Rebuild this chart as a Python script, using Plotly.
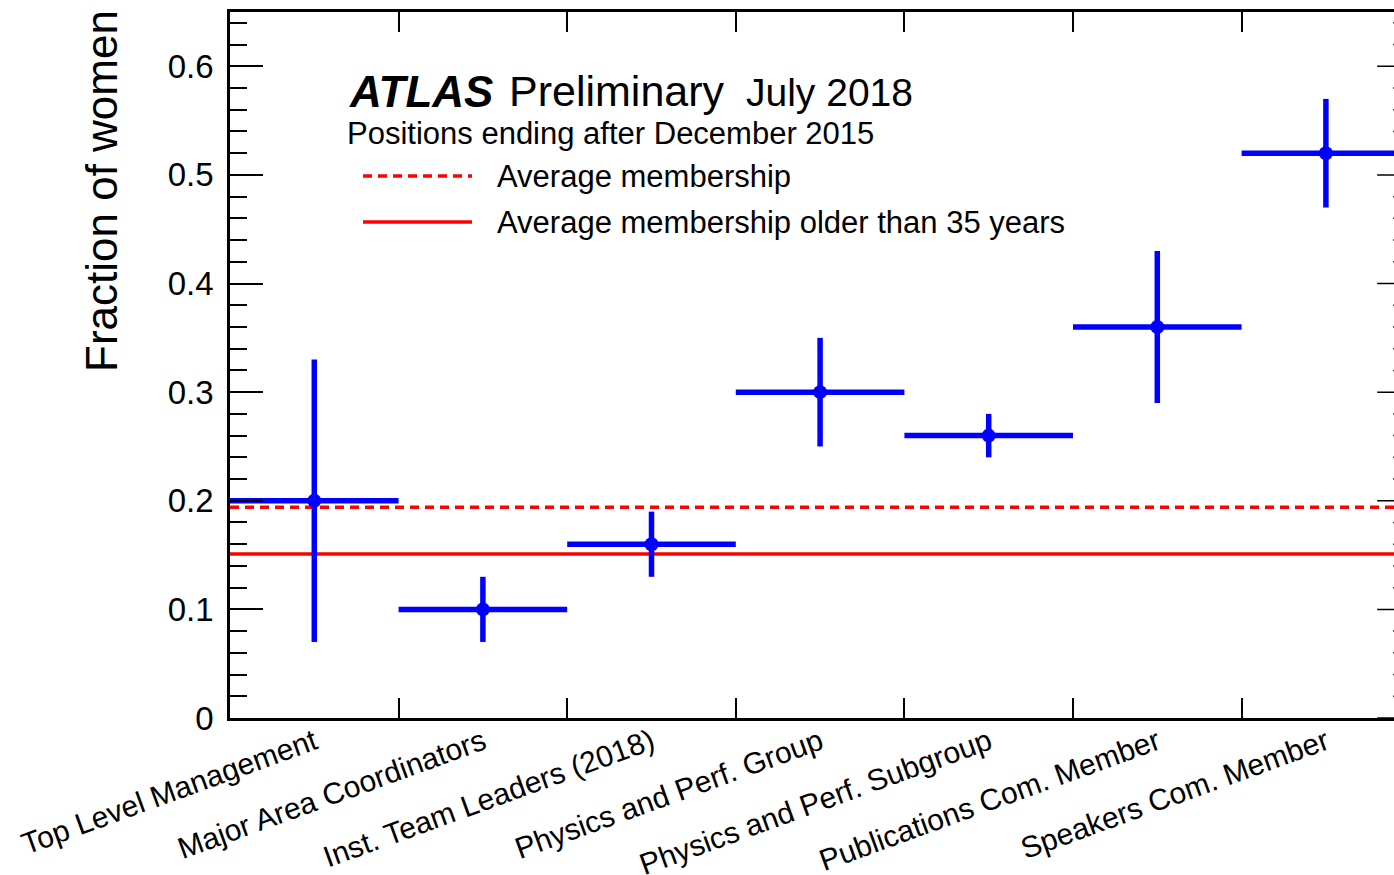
import plotly.graph_objects as go

# ---- data ----
categories = ["Top Level Management", "Major Area Coordinators", "Inst. Team Leaders (2018)",
              "Physics and Perf. Group", "Physics and Perf. Subgroup",
              "Publications Com. Member", "Speakers Com. Member"]
fraction = [0.20, 0.10, 0.16, 0.30, 0.26, 0.36, 0.52]
error = [0.13, 0.03, 0.03, 0.05, 0.02, 0.07, 0.05]
avg_membership = 0.194
avg_membership_35 = 0.151
y_major_ticks = [0, 0.1, 0.2, 0.3, 0.4, 0.5, 0.6]

# ---- geometry (body margin removed via post_script) ----
W, H = 1394, 875
L, R, T, B = 230, 0, 12, 157
PW, PH = W - L - R, H - T - B
nbins = len(categories)
bin_px = 168.6
x_max = PW / bin_px
centers = [i + 0.5 for i in range(nbins)]
halfw = [0.5] * nbins
boundaries = list(range(1, nbins))

FONT = "Liberation Sans, Arial, Helvetica, sans-serif"
BLUE = "#0000ff"
RED = "#ff0000"


def px(xp):
    return (xp - L) / PW


def py(yp):
    return (T + PH - yp) / PH


fig = go.Figure()

# average lines
fig.add_trace(go.Scatter(x=[0, nbins], y=[avg_membership] * 2, mode="lines",
                         line=dict(color=RED, width=3.5, dash="9px,6px"),
                         showlegend=False, hoverinfo="skip"))
fig.add_trace(go.Scatter(x=[0, nbins], y=[avg_membership_35] * 2, mode="lines",
                         line=dict(color=RED, width=3.5),
                         showlegend=False, hoverinfo="skip"))

# data points
fig.add_trace(go.Scatter(
    x=centers, y=fraction, mode="markers",
    marker=dict(color=BLUE, size=14),
    error_x=dict(type="data", array=halfw, color=BLUE, thickness=5.5, width=0),
    error_y=dict(type="data", array=error, color=BLUE, thickness=5.5, width=0),
    showlegend=False))

# dummy trace for label axis
fig.add_trace(go.Scatter(x=centers, y=[None] * nbins, xaxis="x2", showlegend=False,
                         hoverinfo="skip"))

shapes = []
# right-side ticks (right axis lies just outside the visible area)
x_right = float(nbins)
for v in y_major_ticks:
    shapes.append(dict(type="line", xref="x", yref="y", x0=x_right - 33 / bin_px, x1=x_right,
                       y0=v, y1=v, line=dict(color="black", width=1.5)))
minor_vals = [round(i * 0.02, 2) for i in range(33)]
for v in minor_vals:
    if any(abs(v - m) < 1e-9 for m in y_major_ticks):
        continue
    shapes.append(dict(type="line", xref="x", yref="y", x0=x_right - 17 / bin_px, x1=x_right,
                       y0=v, y1=v, line=dict(color="black", width=1.5)))

# legend lines
shapes.append(dict(type="line", xref="paper", yref="paper", x0=px(363), x1=px(472),
                   y0=py(176), y1=py(176), line=dict(color=RED, width=3.5, dash="9px,6px")))
shapes.append(dict(type="line", xref="paper", yref="paper", x0=px(363), x1=px(472),
                   y0=py(222), y1=py(222), line=dict(color=RED, width=3.5)))

annotations = [
    dict(text="<b><i>ATLAS</i></b>", x=px(347), y=py(91), xref="paper", yref="paper",
         xanchor="left", yanchor="middle", showarrow=False, font=dict(size=44, family=FONT, color="black")),
    dict(text="Preliminary", x=px(507), y=py(91), xref="paper", yref="paper",
         xanchor="left", yanchor="middle", showarrow=False, font=dict(size=43, family=FONT, color="black")),
    dict(text="July 2018", x=px(744), y=py(92), xref="paper", yref="paper",
         xanchor="left", yanchor="middle", showarrow=False, font=dict(size=39, family=FONT, color="black")),
    dict(text="Positions ending after December 2015", x=px(345), y=py(133), xref="paper", yref="paper",
         xanchor="left", yanchor="middle", showarrow=False, font=dict(size=31, family=FONT, color="black")),
    dict(text="Average membership", x=px(495), y=py(176), xref="paper", yref="paper",
         xanchor="left", yanchor="middle", showarrow=False, font=dict(size=31, family=FONT, color="black")),
    dict(text="Average membership older than 35 years", x=px(495), y=py(222), xref="paper", yref="paper",
         xanchor="left", yanchor="middle", showarrow=False, font=dict(size=31, family=FONT, color="black")),
    dict(text="Fraction of women", x=px(102), y=py(191), xref="paper", yref="paper",
         xanchor="center", yanchor="middle", textangle=-90, showarrow=False,
         font=dict(size=44, family=FONT, color="black")),
]

fig.update_layout(
    width=W, height=H,
    margin=dict(l=L, r=R, t=T, b=B, pad=0, autoexpand=False),
    paper_bgcolor="white", plot_bgcolor="white",
    font=dict(family=FONT, color="black"),
    showlegend=False,
    xaxis=dict(range=[0, x_max], tickvals=boundaries, showticklabels=False,
               ticks="inside", ticklen=20, tickwidth=1.5, tickcolor="black",
               showline=True, linewidth=2.5, linecolor="black", mirror="ticks",
               showgrid=False, zeroline=False, automargin=False),
    xaxis2=dict(range=[0, x_max], overlaying="x", anchor="y", side="bottom",
                tickvals=centers, ticktext=categories, tickangle=-20,
                tickfont=dict(size=30, family=FONT, color="black"),
                ticks="", showline=False, showgrid=False, zeroline=False,
                ticklabelstandoff=0, automargin=False),
    yaxis=dict(range=[0, 0.65], tickvals=y_major_ticks, ticktext=[f"{v:g}" for v in y_major_ticks],
               ticks="inside", ticklen=33, tickwidth=1.5, tickcolor="black",
               tickfont=dict(size=33, family=FONT, color="black"),
               minor=dict(dtick=0.02, tick0=0, ticks="inside", ticklen=17, tickwidth=1.5, tickcolor="black"),
               showline=True, linewidth=2.5, linecolor="black", mirror=False,
               showgrid=False, zeroline=False, ticklabelstandoff=7, automargin=False),
    shapes=shapes,
    annotations=annotations,
)

fig.write_html("out.html",
               config={"displayModeBar": False},
               post_script="document.body.style.margin='0px';document.body.style.overflow='hidden';")
